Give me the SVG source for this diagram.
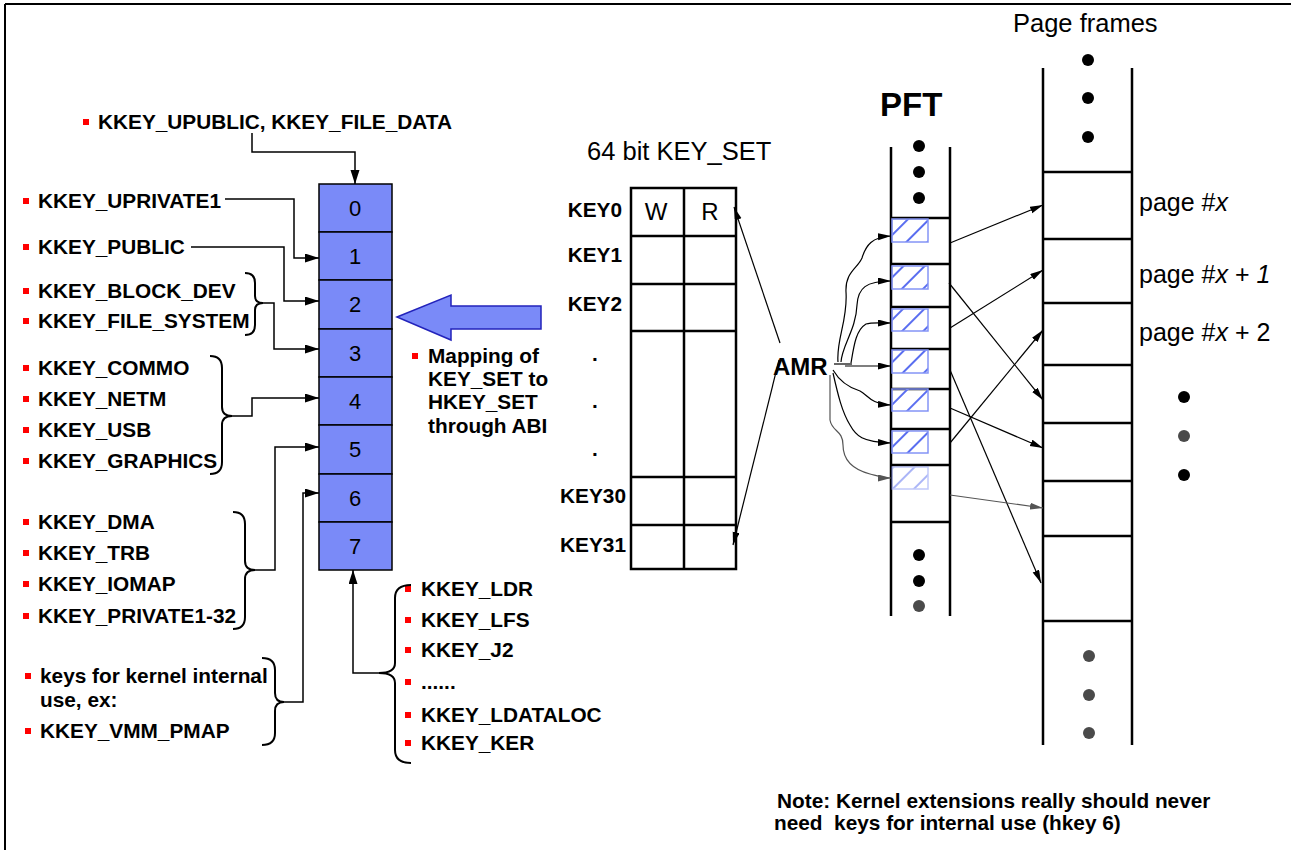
<svg xmlns="http://www.w3.org/2000/svg" width="1291" height="850" viewBox="0 0 1291 850">
<defs>
<style>
.b{font-family:"Liberation Sans",Arial,sans-serif;font-weight:bold;font-size:20.8px;fill:#000}
.r{font-family:"Liberation Sans",Arial,sans-serif;font-size:25.5px;fill:#000}
.pg{font-family:"Liberation Sans",Arial,sans-serif;font-size:25px;fill:#000}
.wr{font-family:"Liberation Sans",Arial,sans-serif;font-size:24px;fill:#000;text-anchor:middle}
.big{font-family:"Liberation Sans",Arial,sans-serif;font-weight:bold;font-size:33px;fill:#000}
.amr{font-family:"Liberation Sans",Arial,sans-serif;font-weight:bold;font-size:24px;fill:#000}
.num{font-family:"Liberation Sans",Arial,sans-serif;font-size:22px;fill:#000;text-anchor:middle}
.sq{fill:#ff0000}
.ln{fill:none;stroke:#000;stroke-width:1.5}
.br{fill:none;stroke:#000;stroke-width:2}
.thin{fill:none;stroke:#000;stroke-width:1.2}
.grey{fill:none;stroke:#555;stroke-width:1.2}
.thick{fill:none;stroke:#000;stroke-width:2.5}
.cell{fill:#7A8AF8;stroke:#000;stroke-width:1.5}
.hb{fill:url(#hatch);stroke:#8494f6;stroke-width:1.5}
.dot{fill:#000}
.gdot{fill:#4a4a4a}
</style>
<pattern id="hatch" patternUnits="userSpaceOnUse" width="15" height="15" patternTransform="rotate(45)">
<line x1="2" y1="0" x2="2" y2="15" stroke="#5a6ef0" stroke-width="2"/>
</pattern>
<marker id="ah" markerUnits="userSpaceOnUse" markerWidth="15" markerHeight="10" refX="14" refY="4.5" orient="auto">
<path d="M0,0 L14,4.5 L0,9 z" fill="#000"/>
</marker>
<marker id="at" markerUnits="userSpaceOnUse" markerWidth="14" markerHeight="8" refX="13" refY="3.5" orient="auto">
<path d="M0,0 L13,3.5 L0,7 z" fill="#000"/>
</marker>
<marker id="atg" markerUnits="userSpaceOnUse" markerWidth="14" markerHeight="8" refX="13" refY="3.5" orient="auto">
<path d="M0,0 L13,3.5 L0,7 z" fill="#555"/>
</marker>
</defs>

<rect x="0" y="0" width="1291" height="850" fill="#fff"/>
<g id="frame">
<line x1="5" y1="4" x2="1291" y2="4" stroke="#000" stroke-width="2"/>
<line x1="5" y1="4" x2="5" y2="850" stroke="#000" stroke-width="2"/>
</g>

<g id="hkey-column">
<rect class="cell" x="319" y="184" width="73" height="48"/>
<rect class="cell" x="319" y="232" width="73" height="48"/>
<rect class="cell" x="319" y="280" width="73" height="49"/>
<rect class="cell" x="319" y="329" width="73" height="48"/>
<rect class="cell" x="319" y="377" width="73" height="48"/>
<rect class="cell" x="319" y="425" width="73" height="49"/>
<rect class="cell" x="319" y="474" width="73" height="48"/>
<rect class="cell" x="319" y="522" width="73" height="48"/>
<text class="num" x="355" y="216">0</text>
<text class="num" x="355" y="264">1</text>
<text class="num" x="355" y="312">2</text>
<text class="num" x="355" y="361">3</text>
<text class="num" x="355" y="409">4</text>
<text class="num" x="355" y="457">5</text>
<text class="num" x="355" y="506">6</text>
<text class="num" x="355" y="554">7</text>
</g>

<g id="label-upublic">
<rect class="sq" x="83" y="119" width="6" height="6"/>
<text class="b" x="98" y="129">KKEY_UPUBLIC, KKEY_FILE_DATA</text>
</g>
<g id="label-uprivate1">
<rect class="sq" x="23" y="198" width="6" height="6"/>
<text class="b" x="38" y="208">KKEY_UPRIVATE1</text>
</g>
<g id="label-public">
<rect class="sq" x="23" y="244" width="6" height="6"/>
<text class="b" x="38" y="254">KKEY_PUBLIC</text>
</g>
<g id="group-2">
<rect class="sq" x="23" y="288" width="6" height="6"/>
<text class="b" x="38" y="298">KKEY_BLOCK_DEV</text>
<rect class="sq" x="23" y="318" width="6" height="6"/>
<text class="b" x="38" y="328">KKEY_FILE_SYSTEM</text>
<path class="br" d="M245,273 Q255,273 255,283 L255,296 Q255,303 263,303 Q255,303 255,310 L255,325 Q255,335 245,335"/>
</g>
<g id="group-4">
<rect class="sq" x="23" y="365" width="6" height="6"/>
<text class="b" x="38" y="375">KKEY_COMMO</text>
<rect class="sq" x="23" y="396" width="6" height="6"/>
<text class="b" x="38" y="406">KKEY_NETM</text>
<rect class="sq" x="23" y="427" width="6" height="6"/>
<text class="b" x="38" y="437">KKEY_USB</text>
<rect class="sq" x="23" y="458" width="6" height="6"/>
<text class="b" x="38" y="468">KKEY_GRAPHICS</text>
<path class="br" d="M210,356 Q222,356 222,368 L222,407 Q222,416 232,416 Q222,416 222,425 L222,462 Q222,474 210,474"/>
</g>
<g id="group-5">
<rect class="sq" x="23" y="519" width="6" height="6"/>
<text class="b" x="38" y="529">KKEY_DMA</text>
<rect class="sq" x="23" y="550" width="6" height="6"/>
<text class="b" x="38" y="560">KKEY_TRB</text>
<rect class="sq" x="23" y="581" width="6" height="6"/>
<text class="b" x="38" y="591">KKEY_IOMAP</text>
<rect class="sq" x="23" y="613" width="6" height="6"/>
<text class="b" x="38" y="623">KKEY_PRIVATE1-32</text>
<path class="br" d="M233,512 Q245,512 245,524 L245,561 Q245,570 255,570 Q245,570 245,579 L245,617 Q245,629 233,629"/>
</g>
<g id="group-6">
<rect class="sq" x="25" y="673" width="6" height="6"/>
<text class="b" x="40" y="683">keys for kernel internal</text>
<text class="b" x="40" y="707">use, ex:</text>
<rect class="sq" x="25" y="728" width="6" height="6"/>
<text class="b" x="40" y="738">KKEY_VMM_PMAP</text>
<path class="br" d="M262,658 Q275,658 275,670 L275,693 Q275,702 284,702 Q275,702 275,711 L275,733 Q275,745 262,745"/>
</g>
<g id="group-7">
<rect class="sq" x="405" y="586" width="6" height="6"/>
<text class="b" x="421" y="596">KKEY_LDR</text>
<rect class="sq" x="405" y="617" width="6" height="6"/>
<text class="b" x="421" y="627">KKEY_LFS</text>
<rect class="sq" x="405" y="647" width="6" height="6"/>
<text class="b" x="421" y="657">KKEY_J2</text>
<rect class="sq" x="405" y="679" width="6" height="6"/>
<text class="b" x="421" y="689">......</text>
<rect class="sq" x="405" y="712" width="6" height="6"/>
<text class="b" x="421" y="722">KKEY_LDATALOC</text>
<rect class="sq" x="405" y="740" width="6" height="6"/>
<text class="b" x="421" y="750">KKEY_KER</text>
<path class="br" d="M411,585 Q395,585 395,598 L395,663 Q395,673 379,673 Q395,673 395,683 L395,750 Q395,763 411,763"/>
</g>

<g id="mapping-arrow">
<polygon points="397,317 451,295 451,306 541,306 541,329 451,329 451,340" fill="#7A8AF8" stroke="#2323bb" stroke-width="1.5"/>
<rect class="sq" x="412" y="353" width="6" height="6"/>
<text class="b" x="428" y="363">Mapping of</text>
<text class="b" x="428" y="386">KEY_SET to</text>
<text class="b" x="428" y="409">HKEY_SET</text>
<text class="b" x="428" y="433">through ABI</text>
</g>

<g id="keyset-table">
<text class="r" x="587" y="160">64 bit KEY_SET</text>
<rect class="thick" x="631" y="188" width="105" height="381"/>
<line class="thick" x1="684" y1="188" x2="684" y2="569"/>
<line class="thick" x1="631" y1="236" x2="736" y2="236"/>
<line class="thick" x1="631" y1="284" x2="736" y2="284"/>
<line class="thick" x1="631" y1="331" x2="736" y2="331"/>
<line class="thick" x1="631" y1="477" x2="736" y2="477"/>
<line class="thick" x1="631" y1="525" x2="736" y2="525"/>
<text class="wr" x="656" y="220">W</text>
<text class="wr" x="710" y="220">R</text>
<text class="b" x="622" y="217" text-anchor="end">KEY0</text>
<text class="b" x="622" y="262" text-anchor="end">KEY1</text>
<text class="b" x="622" y="311" text-anchor="end">KEY2</text>
<text class="b" x="595" y="361" text-anchor="middle">.</text>
<text class="b" x="595" y="408" text-anchor="middle">.</text>
<text class="b" x="595" y="456" text-anchor="middle">.</text>
<text class="b" x="626" y="503" text-anchor="end">KEY30</text>
<text class="b" x="626" y="552" text-anchor="end">KEY31</text>
</g>

<g id="amr">
<text class="amr" x="773" y="375">AMR</text>
</g>

<g id="pft">
<text class="big" x="880" y="116">PFT</text>
<line class="thick" x1="891" y1="147" x2="891" y2="616"/>
<line class="thick" x1="950" y1="147" x2="950" y2="616"/>
<line class="thick" x1="891" y1="218" x2="950" y2="218"/>
<line class="thick" x1="891" y1="264" x2="950" y2="264"/>
<line class="thick" x1="891" y1="307" x2="950" y2="307"/>
<line class="thick" x1="891" y1="349" x2="950" y2="349"/>
<line class="thick" x1="891" y1="389" x2="950" y2="389"/>
<line class="thick" x1="891" y1="429" x2="950" y2="429"/>
<line class="thick" x1="891" y1="465" x2="950" y2="465"/>
<line class="thick" x1="891" y1="522" x2="950" y2="522"/>
<rect class="hb" x="892" y="219" width="36" height="23"/>
<rect class="hb" x="892" y="266" width="36" height="23"/>
<rect class="hb" x="892" y="309" width="36" height="22"/>
<rect class="hb" x="892" y="350" width="36" height="23"/>
<rect class="hb" x="892" y="389" width="36" height="22"/>
<rect class="hb" x="892" y="431" width="36" height="22"/>
<rect class="hb" x="892" y="467" width="36" height="22" opacity="0.5"/>
<circle class="dot" cx="919" cy="146" r="6"/>
<circle class="dot" cx="919" cy="172" r="6"/>
<circle class="dot" cx="919" cy="198" r="6"/>
<circle class="dot" cx="919" cy="555" r="6"/>
<circle class="dot" cx="919" cy="581" r="6"/>
<circle class="gdot" cx="919" cy="606" r="6"/>
</g>

<g id="page-frames">
<text class="r" x="1013" y="32">Page frames</text>
<line class="thick" x1="1043" y1="68" x2="1043" y2="745"/>
<line class="thick" x1="1132" y1="68" x2="1132" y2="745"/>
<line class="thick" x1="1043" y1="172" x2="1132" y2="172"/>
<line class="thick" x1="1043" y1="239" x2="1132" y2="239"/>
<line class="thick" x1="1043" y1="303" x2="1132" y2="303"/>
<line class="thick" x1="1043" y1="365" x2="1132" y2="365"/>
<line class="thick" x1="1043" y1="423" x2="1132" y2="423"/>
<line class="thick" x1="1043" y1="481" x2="1132" y2="481"/>
<line class="thick" x1="1043" y1="536" x2="1132" y2="536"/>
<line class="thick" x1="1043" y1="621" x2="1132" y2="621"/>
<circle class="dot" cx="1088" cy="60" r="6"/>
<circle class="dot" cx="1088" cy="98" r="6"/>
<circle class="dot" cx="1088" cy="137" r="6"/>
<circle class="dot" cx="1184" cy="397" r="6"/>
<circle class="gdot" cx="1184" cy="436" r="6"/>
<circle class="dot" cx="1184" cy="475" r="6"/>
<circle class="gdot" cx="1089" cy="656" r="6"/>
<circle class="gdot" cx="1089" cy="695" r="6"/>
<circle class="gdot" cx="1089" cy="733" r="6"/>
<text class="pg" x="1139" y="211">page #<tspan font-style="italic">x</tspan></text>
<text class="pg" x="1139" y="283">page #<tspan font-style="italic">x</tspan> + <tspan font-style="italic">1</tspan></text>
<text class="pg" x="1139" y="341">page #<tspan font-style="italic">x</tspan> + 2</text>
</g>

<g id="note">
<text class="b" x="777" y="808">Note: Kernel extensions really should never</text>
<text class="b" x="774" y="830" xml:space="preserve">need  keys for internal use (hkey 6)</text>
</g>

<g id="connectors">
<path class="ln" marker-end="url(#ah)" d="M252,133 V152 H355 V184"/>
<path class="ln" marker-end="url(#ah)" d="M225,199 H294 V258 H319"/>
<path class="ln" marker-end="url(#ah)" d="M191,247 H284 V301 H319"/>
<path class="ln" marker-end="url(#ah)" d="M263,303 H274 V349 H319"/>
<path class="ln" marker-end="url(#ah)" d="M232,416 H252 V398 H319"/>
<path class="ln" marker-end="url(#ah)" d="M255,570 H275 V447 H319"/>
<path class="ln" marker-end="url(#ah)" d="M284,702 H303 V493 H319"/>
<path class="ln" marker-end="url(#ah)" d="M379,673 H353 V570"/>

<path class="thin" marker-end="url(#at)" d="M780,343 L734,207"/>
<path class="thin" marker-end="url(#at)" d="M779,360 L733,545"/>

<path class="thin" marker-end="url(#at)" d="M838,362 C836,340 848,320 846,292 C845,272 858,268 862,258 C866,245 872,237 891,236"/>
<path class="thin" marker-end="url(#at)" d="M841,362 C842,345 856,330 857,305 C858,288 866,281 891,281"/>
<path class="thin" marker-end="url(#at)" d="M851,363 C854,345 856,330 866,324 C872,322 880,323 891,323"/>
<path class="thin" d="M834,364 H852"/>
<path class="thin" marker-end="url(#at)" d="M845,366 L891,366"/>
<path class="thin" marker-end="url(#at)" d="M833,370 C840,382 850,388 860,391 C868,395 870,404 891,405"/>
<path class="thin" marker-end="url(#at)" d="M833,373 C838,395 842,412 850,425 C856,436 862,442 891,443"/>
<path class="grey" marker-end="url(#atg)" d="M830,375 L830,420 C832,432 843,430 843,445 C843,462 855,470 870,474 C878,476 884,478 891,478"/>

<path class="thin" marker-end="url(#at)" d="M950,243 L1043,205"/>
<path class="thin" marker-end="url(#at)" d="M949,283 L1043,400"/>
<path class="thin" marker-end="url(#at)" d="M950,328 L1043,270"/>
<path class="thin" marker-end="url(#at)" d="M950,370 L1041,583"/>
<path class="thin" marker-end="url(#at)" d="M950,408 L1043,448"/>
<path class="thin" marker-end="url(#at)" d="M950,443 L1043,330"/>
<path class="grey" marker-end="url(#atg)" d="M950,495 L1043,508"/>
</g>
</svg>
